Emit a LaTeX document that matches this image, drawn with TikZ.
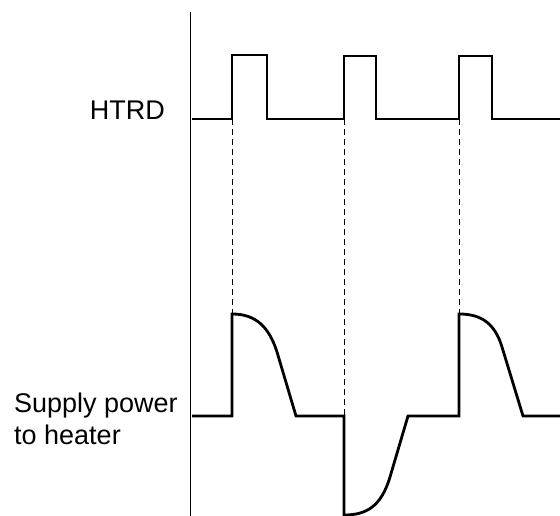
\documentclass[tikz,border=0pt]{standalone}
\usepackage{fontspec}
\setmainfont{Liberation Sans}
\usetikzlibrary{positioning}

\begin{document}
\begin{tikzpicture}[x=1pt,y=-1pt]
\tikzset{
  sigline/.style={draw=black,line width=2.8pt,line cap=butt,line join=miter},
  axisline/.style={draw=black,line width=1pt},
  guideline/.style={draw=black,line width=0.9pt,dash pattern=on 6pt off 4pt},
  siglabel/.style={font=\fontsize{27}{32}\selectfont,inner sep=0pt,align=left}
}
\useasboundingbox (0,0) rectangle (560,516);
% axis
\coordinate (ax_top) at (190,12);
\coordinate (ax_bot) at (190,516);
\draw[axisline] (ax_top) -- (ax_bot);
% labels
\node[siglabel,anchor=east] (n_htrd) at (165,110) {HTRD};
\node[siglabel,anchor=west] (n_pwr) at (14,419) {Supply power\\to heater};
% HTRD pulses
\coordinate (h_r0) at (232,119);
\coordinate (h_r1) at (344,119);
\coordinate (h_r2) at (459,119);
\draw[sigline] (192,119) -- (h_r0) -- (232,55) -- (267,55) -- (267,119)
  -- (h_r1) -- (344,56) -- (376,56) -- (376,119)
  -- (h_r2) -- (459,56) -- (492,56) -- (492,119) -- (560,119);
% supply power
\coordinate (p_t0) at (232,314);
\coordinate (p_t1) at (344,416);
\coordinate (p_t2) at (459,314);
\draw[sigline] (192,416) -- (232,416) -- (p_t0)
  .. controls (256,314) and (269,327) .. (277,352) -- (296,416)
  -- (p_t1) -- (344,515)
  .. controls (366,515) and (381,507) .. (390,477) -- (408,416)
  -- (459,416) -- (p_t2)
  .. controls (482,314) and (495,324) .. (502,347) -- (523,416) -- (560,416);
% guides
\draw[guideline] (h_r0) -- (p_t0);
\draw[guideline] (h_r1) -- (p_t1);
\draw[guideline] (h_r2) -- (p_t2);
\end{tikzpicture}
\end{document}
